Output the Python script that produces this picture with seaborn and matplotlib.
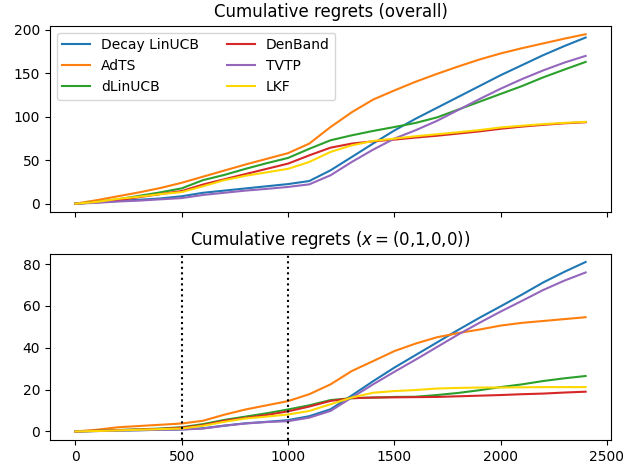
import numpy as np
import pandas as pd
import matplotlib
matplotlib.use("Agg")
import matplotlib.pyplot as plt
import seaborn as sns

steps = [0, 100, 200, 300, 400, 500, 600, 700, 800, 900, 1000, 1100, 1200,
         1300, 1400, 1500, 1600, 1700, 1800, 1900, 2000, 2100, 2200, 2300, 2400]

methods = ["Decay LinUCB", "AdTS", "dLinUCB", "DenBand", "TVTP", "LKF"]
colors = ["#1f77b4", "#ff7f0e", "#2ca02c", "#d62728", "#9467bd", "#ffd700"]

# overall cumulative regrets
overall_decay = [0, 1.5, 3, 4.5, 6, 8.5, 12.5, 15, 17.5, 20, 22.5, 26, 38.3, 53.6, 69, 84, 97.5, 110, 122.5, 135, 147.5, 159, 170.5, 181, 190.8]
overall_adts = [0, 4, 8.5, 13, 18, 24, 31, 38, 45, 51.5, 58, 69, 88, 105, 119.5, 130, 140, 149, 157.5, 165.5, 172.5, 178.5, 184, 189.5, 194.6]
overall_dlin = [0, 2, 5, 9, 13, 17.6, 27, 33, 40, 46.5, 52.5, 63, 72.8, 78.5, 83.5, 88, 92.7, 99, 108, 117, 126, 135, 145, 154, 162.8]
overall_denband = [0, 1.5, 4, 7.5, 11, 14.5, 22, 28, 34, 40, 46, 55.5, 64.3, 69, 71.6, 73.6, 75.9, 78, 80.5, 83, 86, 88.5, 90.5, 92.3, 93.5]
overall_tvtp = [0, 1, 2.5, 3.5, 5, 6.4, 10, 12.5, 15, 17, 19.2, 22.2, 32.6, 47.9, 62, 74.7, 84.3, 95, 107.5, 120, 132, 143, 153, 162, 169.7]
overall_lkf = [0, 2, 5.5, 8, 11, 13.3, 20, 27, 32, 36, 40, 47.9, 59.4, 67, 72, 74.7, 77.4, 79.7, 82, 84.5, 87.5, 89.5, 91.3, 92.8, 94]

# cumulative regrets for x = (0,1,0,0)
ctx_decay = [0, 0.2, 0.4, 0.6, 0.8, 1.0, 1.5, 2.8, 3.9, 4.6, 5.4, 7.3, 10.6, 17.2, 24, 30.5, 36.5, 42.5, 48.5, 54.3, 59.8, 65.4, 71.2, 76.3, 81]
ctx_adts = [0, 0.8, 2.0, 2.6, 3.2, 3.8, 5.1, 8.0, 10.5, 12.5, 14.5, 17.8, 22.5, 28.9, 33.6, 38.4, 42, 45, 47, 48.7, 50.6, 51.9, 52.8, 53.7, 54.6]
ctx_dlin = [0, 0.3, 0.7, 1.0, 1.4, 2.0, 3.5, 5.5, 7.1, 8.7, 10.5, 12.5, 15.0, 15.9, 16.2, 16.5, 16.6, 17.4, 18.4, 19.7, 21.2, 22.5, 24.1, 25.4, 26.5]
ctx_denband = [0, 0.3, 0.6, 0.9, 1.2, 1.8, 3.0, 5.1, 6.5, 7.9, 9.6, 11.9, 14.6, 15.9, 16.2, 16.3, 16.4, 16.5, 16.8, 17.1, 17.4, 17.8, 18.1, 18.6, 19]
ctx_tvtp = [0, 0.2, 0.4, 0.6, 0.8, 0.9, 1.4, 2.7, 3.8, 4.5, 4.9, 6.6, 9.8, 16.2, 22.5, 28.5, 34.3, 40.3, 46.3, 51.9, 57.3, 62.4, 67.6, 72.1, 76]
ctx_lkf = [0, 0.2, 0.5, 0.8, 1.1, 1.4, 2.7, 4.6, 6.2, 7.1, 8.1, 9.8, 13.0, 16.2, 18.5, 19.3, 19.8, 20.5, 20.8, 21, 21, 21.1, 21.2, 21.2, 21.2]

change_points = [500, 1000]


def to_long(series):
    rows = []
    for name, vals in zip(methods, series):
        for t, v in zip(steps, vals):
            rows.append((t, v, name))
    return pd.DataFrame(rows, columns=["t", "regret", "method"])


df_overall = to_long([overall_decay, overall_adts, overall_dlin,
                      overall_denband, overall_tvtp, overall_lkf])
df_ctx = to_long([ctx_decay, ctx_adts, ctx_dlin, ctx_denband, ctx_tvtp, ctx_lkf])

palette = dict(zip(methods, colors))

fig, (ax1, ax2) = plt.subplots(2, 1, figsize=(6.32, 4.68), dpi=100, sharex=True)

sns.lineplot(data=df_overall, x="t", y="regret", hue="method", hue_order=methods,
             palette=palette, ax=ax1, linewidth=1.5)
sns.lineplot(data=df_ctx, x="t", y="regret", hue="method", hue_order=methods,
             palette=palette, ax=ax2, linewidth=1.5, legend=False)

for cp in change_points:
    ax2.axvline(cp, color="black", linestyle=":", linewidth=1.5)

ax1.set_title("Cumulative regrets (overall)", fontsize=12)
ax2.set_title("Cumulative regrets ($x = (0{,}1{,}0{,}0)$)", fontsize=12)

for ax in (ax1, ax2):
    ax.set_xlabel("")
    ax.set_ylabel("")

ax1.set_yticks([0, 50, 100, 150, 200])
ax2.set_yticks([0, 20, 40, 60, 80])
ax2.set_xticks([0, 500, 1000, 1500, 2000, 2500])

handles, labels = ax1.get_legend_handles_labels()
ax1.legend(handles, labels, ncol=2, loc="upper left", fontsize=10)

fig.subplots_adjust(left=0.079, right=0.967, top=0.945, bottom=0.06, hspace=0.222)
fig.savefig("out.png", dpi=100)
